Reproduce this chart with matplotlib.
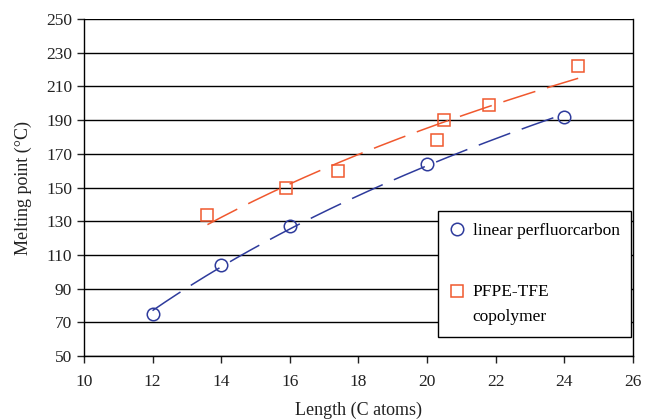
import numpy as np
import matplotlib
matplotlib.use("Agg")
import matplotlib.pyplot as plt

plt.rcParams['font.family'] = ['Liberation Serif', 'DejaVu Serif']

# data
lin_x = [12, 14, 16, 20, 24]
lin_y = [75, 104, 127, 164, 192]
pfpe_x = [13.6, 15.9, 17.4, 20.3, 20.5, 21.8, 24.4]
pfpe_y = [134, 150, 160, 178, 190, 199, 222]
x_ticks = list(range(10, 27, 2))
y_ticks = list(range(50, 251, 20))

blue = '#2E3B9C'
red = '#F0582E'

fig = plt.figure(figsize=(6.5, 4.2), dpi=100)
ax = fig.add_axes([0.129, 0.152, 0.845, 0.803])

# logarithmic trend lines
for xs, ys, c in [(lin_x, lin_y, blue), (pfpe_x, pfpe_y, red)]:
    a, b = np.polyfit(np.log(xs), ys, 1)
    xx = np.linspace(min(xs), max(xs), 200)
    ax.plot(xx, a * np.log(xx) + b, color=c, lw=1.1, dashes=(22, 8), zorder=2)

ax.plot(lin_x, lin_y, 'o', ms=9, mfc='none', mec=blue, mew=1.1, ls='none',
        label='linear perfluorcarbon', zorder=3)
ax.plot(pfpe_x, pfpe_y, 's', ms=8.5, mfc='none', mec=red, mew=1.1, ls='none',
        label='PFPE-TFE\ncopolymer', zorder=3)

ax.set_xlim(10, 26)
ax.set_ylim(50, 250)
ax.set_xticks(x_ticks)
ax.set_yticks(y_ticks)
ax.yaxis.grid(True, color='black', lw=1)
ax.set_axisbelow(True)
for s in ax.spines.values():
    s.set_color('black')
    s.set_linewidth(1)
ax.spines['top'].set_visible(False)
ax.tick_params(axis='both', direction='out', length=5, width=1, labelsize=12.5, colors='#222222')
ax.tick_params(axis='x', pad=8)
ax.set_xlabel('Length (C atoms)', fontsize=13, color='#222222', labelpad=8)
ax.set_ylabel('Melting point (°C)', fontsize=13, color='#222222', labelpad=10)

leg = ax.legend(loc='upper left', bbox_to_anchor=(0.645, 0.071, 0.352, 0.359), mode='expand',
                frameon=True, fancybox=False, edgecolor='black', fontsize=12.5,
                labelspacing=2.6, handletextpad=0.5, borderpad=0.7, handlelength=0.8,
                borderaxespad=0)
leg.get_frame().set_linewidth(1)
leg.get_frame().set_alpha(1)
for t in leg.get_texts():
    t.set_linespacing(1.7)
for col in leg._legend_handle_box.get_children():
    for hp in col.get_children():
        hp.align = 'top'

fig.savefig('out.png', dpi=100)
